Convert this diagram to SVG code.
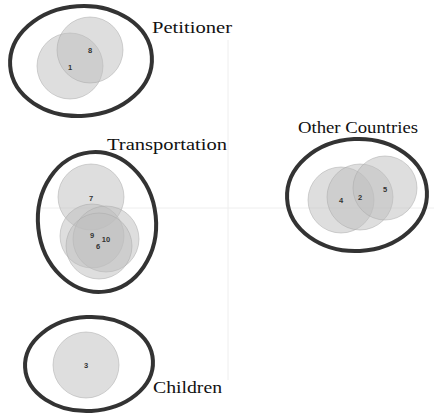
<svg xmlns="http://www.w3.org/2000/svg" width="434" height="417" viewBox="0 0 434 417">
<style>
.bg{fill:#fff}
.axis{stroke:#eeeeee;stroke-width:1;fill:none}
.grp{fill:none;stroke:#333;stroke-width:4}
.c{fill:#bdbdbd;fill-opacity:0.5;stroke:#aaa;stroke-opacity:0.5;stroke-width:1}
.n{font-family:"Liberation Sans",Arial,sans-serif;font-size:7.5px;font-weight:bold;fill:#333;text-anchor:middle;dominant-baseline:central}
.t{font-family:"Liberation Serif","Times New Roman",serif;font-size:16px;fill:#111}
</style>
<rect class="bg" x="0" y="0" width="434" height="417"/>
<g id="axes">
<line class="axis" x1="228" y1="40" x2="228" y2="380"/>
<line class="axis" x1="40" y1="208" x2="434" y2="208"/>
</g>
<g id="petitioner">
<ellipse class="grp" cx="81" cy="61" rx="71" ry="55" transform="rotate(-4 81 61)"/>
<circle class="c" cx="70" cy="66" r="33"/>
<circle class="c" cx="90" cy="50" r="33"/>
<text class="n" x="90" y="50">8</text>
<text class="n" x="70" y="67">1</text>
<text class="t" x="152" y="33" textLength="80" lengthAdjust="spacingAndGlyphs">Petitioner</text>
</g>
<g id="transportation">
<ellipse class="grp" cx="97" cy="222" rx="59" ry="70" transform="rotate(-6 97 222)"/>
<circle class="c" cx="91" cy="197" r="33"/>
<circle class="c" cx="92" cy="236" r="32"/>
<circle class="c" cx="106" cy="239" r="33"/>
<circle class="c" cx="99" cy="246" r="33"/>
<text class="n" x="91" y="198">7</text>
<text class="n" x="92" y="235">9</text>
<text class="n" x="106" y="239">10</text>
<text class="n" x="98" y="246">6</text>
<text class="t" x="107" y="150" textLength="120" lengthAdjust="spacingAndGlyphs">Transportation</text>
</g>
<g id="children">
<ellipse class="grp" cx="89" cy="364" rx="64" ry="47" transform="rotate(-3 89 364)"/>
<circle class="c" cx="86" cy="365" r="33"/>
<text class="n" x="86" y="365">3</text>
<text class="t" x="153" y="393" textLength="69" lengthAdjust="spacingAndGlyphs">Children</text>
</g>
<g id="other-countries">
<ellipse class="grp" cx="357" cy="195" rx="70" ry="56" transform="rotate(-3 357 195)"/>
<circle class="c" cx="341" cy="200" r="33"/>
<circle class="c" cx="360" cy="197" r="33"/>
<circle class="c" cx="385" cy="188" r="32"/>
<text class="n" x="341" y="200">4</text>
<text class="n" x="360" y="197">2</text>
<text class="n" x="385" y="189">5</text>
<text class="t" x="298" y="133" textLength="120" lengthAdjust="spacingAndGlyphs">Other Countries</text>
</g>
</svg>
